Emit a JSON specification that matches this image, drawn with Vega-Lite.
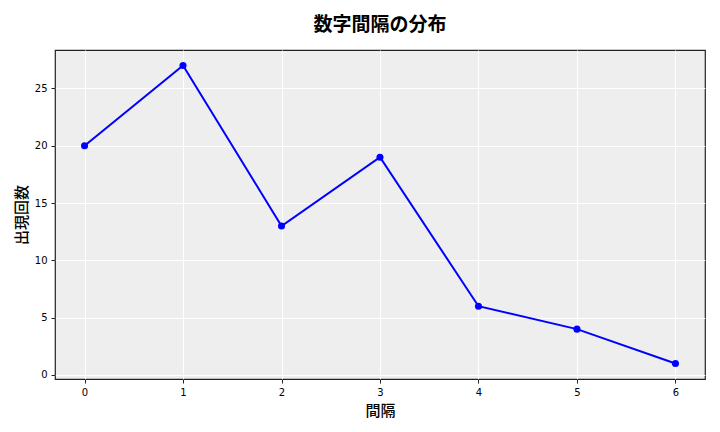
{
  "$schema": "https://vega.github.io/schema/vega-lite/v6.json",
  "width": 650,
  "height": 329,
  "autosize": "none",
  "padding": {"left": 55, "top": 50, "right": 15, "bottom": 53},
  "background": "white",
  "title": {
    "text": "数字間隔の分布",
    "font": "Noto Sans CJK JP",
    "fontSize": 19,
    "fontWeight": "bold",
    "color": "#000000",
    "anchor": "middle",
    "offset": 15
  },
  "data": {
    "values": [
      {"gap": 0, "count": 20},
      {"gap": 1, "count": 27},
      {"gap": 2, "count": 13},
      {"gap": 3, "count": 19},
      {"gap": 4, "count": 6},
      {"gap": 5, "count": 4},
      {"gap": 6, "count": 1}
    ]
  },
  "mark": {
    "type": "line",
    "color": "#0000ff",
    "strokeWidth": 2,
    "point": {"filled": true, "color": "#0000ff", "size": 50, "opacity": 1}
  },
  "encoding": {
    "x": {
      "field": "gap",
      "type": "quantitative",
      "title": "間隔",
      "scale": {"domain": [-0.3, 6.3], "nice": false, "zero": false},
      "axis": {"values": [0, 1, 2, 3, 4, 5, 6], "format": "d"}
    },
    "y": {
      "field": "count",
      "type": "quantitative",
      "title": "出現回数",
      "scale": {"domain": [-0.35, 28.35], "nice": false, "zero": false},
      "axis": {"values": [0, 5, 10, 15, 20, 25], "format": "d"}
    }
  },
  "config": {
    "view": {"fill": "#eeeeee", "stroke": "#222222", "strokeWidth": 1.2},
    "axis": {
      "domain": false,
      "grid": true,
      "gridColor": "#ffffff",
      "gridWidth": 1,
      "tickColor": "#222222",
      "tickSize": 4,
      "labelFont": "DejaVu Sans",
      "labelFontSize": 10,
      "labelColor": "#000000",
      "labelPadding": 4,
      "titleFont": "Noto Sans CJK JP",
      "titleFontSize": 15,
      "titleFontWeight": 500,
      "titleColor": "#000000"
    },
    "axisX": {"titlePadding": 6},
    "axisY": {"titlePadding": 5}
  }
}
